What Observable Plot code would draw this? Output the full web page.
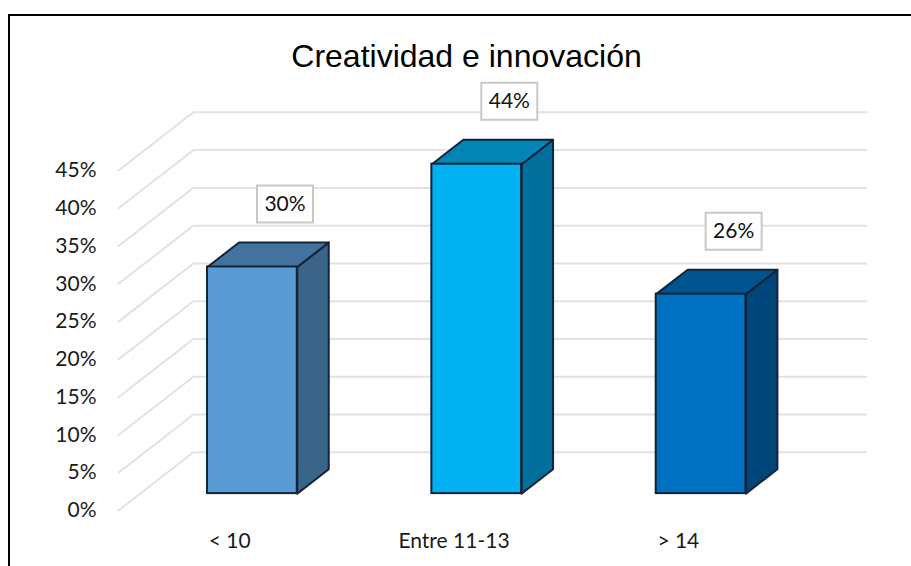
<!DOCTYPE html>
<html>
<head>
<meta charset="utf-8">
<script src="https://cdn.jsdelivr.net/npm/d3@7"></script>
<script src="https://cdn.jsdelivr.net/npm/@observablehq/plot@0.6"></script>
<style>
  html, body { margin: 0; padding: 0; background: #fff; }
  #chart { position: relative; width: 911px; height: 566px; overflow: hidden; }
  #chart svg { display: block; }
  #edge { position: absolute; left: 8px; top: 14px; right: -4px; bottom: -4px;
          border-left: 2px solid #000; border-top: 2px solid #000; pointer-events: none; }
</style>
</head>
<body>
<div id="chart"><div id="edge"></div></div>
<script>
const title = "Creatividad e innovación";
const categories = ["< 10", "Entre 11-13", "> 14"];
const values = [30.0, 43.6, 26.4];
const yTicks = [0, 5, 10, 15, 20, 25, 30, 35, 40, 45];
const frontColors = ["#5B9BD5", "#00B0F0", "#0070C0"];
const topColors = ["#44729F", "#0085B5", "#005490"];
const sideColors = ["#3A6488", "#006F9C", "#00467A"];

// Oblique projection of the floor, in data units
const depthX = 0.334, depthY = 7.7;
const nearT = 0.29, farT = 0.71, halfWidth = 0.2;
const proj = (x, y, t) => ({x: x + depthX * t, y: y + depthY * t});

const gridLines = yTicks.flatMap(v => [
  {v, ...proj(-0.5, v, 0)},
  {v, ...proj(-0.5, v, 1)},
  {v, ...proj(2.5, v, 1)}
]);

const bars = categories.map((c, i) => ({i, c, v: values[i]}));
const front = bars.map(b => ({
  x1: proj(b.i - halfWidth, 0, nearT).x,
  x2: proj(b.i + halfWidth, 0, nearT).x,
  y1: proj(0, 0, nearT).y,
  y2: proj(0, b.v, nearT).y,
  fill: frontColors[b.i]
}));
const polygon = (b, pts, fill) => pts.map(([x, y, t]) => ({face: b.i, fill, ...proj(x, y, t)}));
const tops = bars.flatMap(b => polygon(b, [
  [b.i - halfWidth, b.v, nearT], [b.i + halfWidth, b.v, nearT],
  [b.i + halfWidth, b.v, farT], [b.i - halfWidth, b.v, farT],
  [b.i - halfWidth, b.v, nearT]
], topColors[b.i]));
const sides = bars.flatMap(b => polygon(b, [
  [b.i + halfWidth, 0, nearT], [b.i + halfWidth, 0, farT],
  [b.i + halfWidth, b.v, farT], [b.i + halfWidth, b.v, nearT],
  [b.i + halfWidth, 0, nearT]
], sideColors[b.i]));
const labels = bars.map(b => ({...proj(b.i + 0.005, b.v, farT), text: Math.round(b.v) + "%"}));

const boxSymbol = {draw(ctx) { ctx.rect(-28, -18.5, 56, 37); }};
const edgeColor = "#12233A";

const plot = Plot.plot({
  width: 911,
  height: 566,
  marginLeft: 118,
  marginRight: 120,
  marginTop: 170,
  marginBottom: 56,
  style: {fontFamily: "Lato, sans-serif", background: "#fff", overflow: "visible"},
  x: {domain: [-0.5, 2.5], axis: null},
  y: {domain: [0, 45], axis: null},
  marks: [
    Plot.line(gridLines, {x: "x", y: "y", z: "v", stroke: "#E2E2E2", strokeWidth: 2}),
    Plot.axisY({ticks: yTicks, tickSize: 0, tickPadding: 22, label: null, tickFormat: d => d + "%",
      fontSize: 21, fill: "#1a1a1a"}),
    Plot.axisX({ticks: [0, 1, 2], tickSize: 0, tickPadding: 23, dx: -1, label: null, tickFormat: i => categories[i],
      fontSize: 21, fill: "#1a1a1a"}),
    Plot.line(sides, {x: "x", y: "y", z: "face", fill: "fill", stroke: edgeColor, strokeWidth: 2}),
    Plot.line(tops, {x: "x", y: "y", z: "face", fill: "fill", stroke: edgeColor, strokeWidth: 2}),
    Plot.rect(front, {x1: "x1", x2: "x2", y1: "y1", y2: "y2", fill: "fill", stroke: edgeColor, strokeWidth: 2}),
    Plot.dot(labels, {x: "x", y: "y", dy: -38.5, symbol: boxSymbol, fill: "#fff", stroke: "#C8C8C8", strokeWidth: 2}),
    Plot.text(labels, {x: "x", y: "y", dy: -38.5, text: "text", fontSize: 21, fill: "#111"}),
    Plot.text([title], {frameAnchor: "top", dx: 11.5, dy: -126, fontSize: 32, fill: "#000",
      fontFamily: "'Liberation Sans', Arial, sans-serif"})
  ]
});
document.getElementById("chart").prepend(plot);
</script>
</body>
</html>
